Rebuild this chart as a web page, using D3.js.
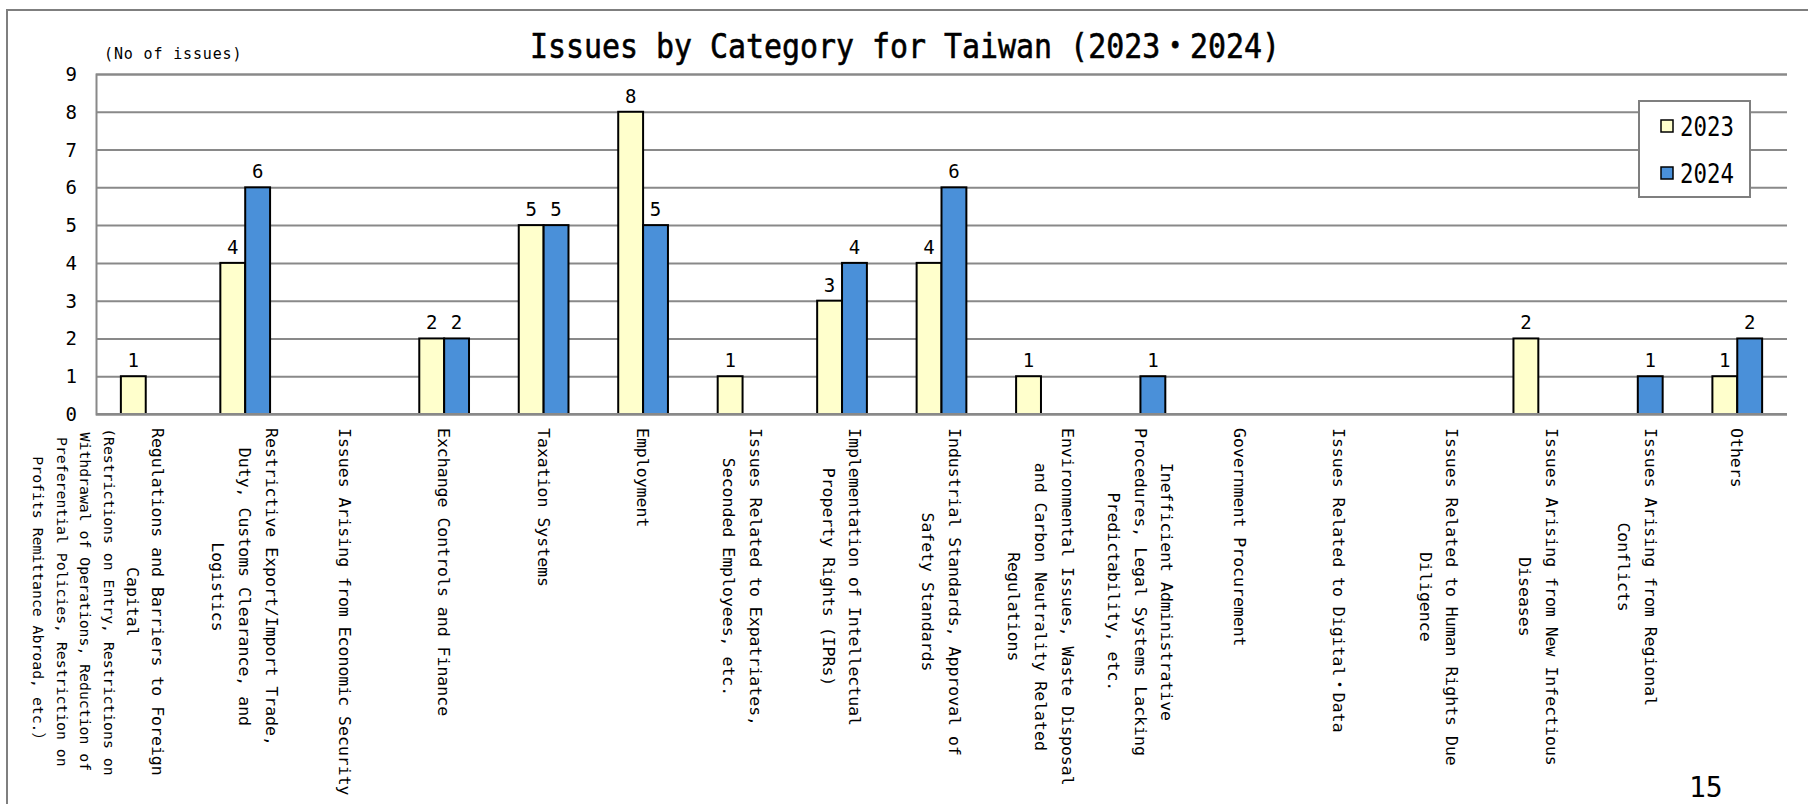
<!DOCTYPE html>
<html>
<head>
<meta charset="utf-8">
<script src="https://cdn.jsdelivr.net/npm/d3@7/dist/d3.min.js"></script>
<style>
  html, body { margin: 0; padding: 0; background: #fff; }
  svg { display: block; }
  text { font-family: "DejaVu Sans Mono", "Noto Sans CJK JP", monospace; fill: #000; }
</style>
</head>
<body>
<svg id="chart" width="1808" height="804"></svg>
<script>
// Category labels, one entry per line of the wrapped label
const categoryLines = [
  ["Regulations and Barriers to Foreign", "Capital"],
  ["Restrictive Export/Import Trade,", "Duty, Customs Clearance, and", "Logistics"],
  ["Issues Arising from Economic Security"],
  ["Exchange Controls and Finance"],
  ["Taxation Systems"],
  ["Employment"],
  ["Issues Related to Expatriates,", "Seconded Employees, etc."],
  ["Implementation of Intellectual", "Property Rights (IPRs)"],
  ["Industrial Standards, Approval of", "Safety Standards"],
  ["Environmental Issues, Waste Disposal", "and Carbon Neutrality Related", "Regulations"],
  ["Inefficient Administrative", "Procedures, Legal Systems Lacking", "Predictability, etc."],
  ["Government Procurement"],
  ["Issues Related to Digital・Data"],
  ["Issues Related to Human Rights Due", "Diligence"],
  ["Issues Arising from New Infectious", "Diseases"],
  ["Issues Arising from Regional", "Conflicts"],
  ["Others"]
];
// Parenthetical notes printed in smaller type under a category name
const categoryNotes = [
  ["(Restrictions on Entry, Restrictions on", "Withdrawal of Operations, Reduction of", "Preferential Policies, Restriction on", "Profits Remittance Abroad, etc.）"],
  [], [], [], [], [], [], [], [], [], [], [], [], [], [], [], []
];
const seriesNames = ["2023", "2024"];
const values2023 = [1, 4, 0, 2, 5, 8, 1, 3, 4, 1, 0, 0, 0, 0, 2, 0, 1];
const values2024 = [0, 6, 0, 2, 5, 5, 0, 4, 6, 0, 1, 0, 0, 0, 0, 1, 2];
const yTicks = [0, 1, 2, 3, 4, 5, 6, 7, 8, 9];
const titleText = "Issues by Category for Taiwan (2023・2024)";
const unitText = "(No of issues)";
const pageNumber = "15";

const colors = { "2023": "#FFFFCC", "2024": "#4A90D9" };
const gridColor = "#898989";

const svg = d3.select("#chart");
const categories = categoryLines.map((_, i) => "c" + i);
const rows = categories.map((c, i) => ({
  key: c, lines: categoryLines[i], notes: categoryNotes[i],
  "2023": values2023[i], "2024": values2024[i]
}));

const plot = { left: 96, right: 1787, top: 74, bottom: 414 };

const x = d3.scaleBand().domain(categories).range([plot.left, plot.right]).paddingInner(0).paddingOuter(0);
const x1 = d3.scaleBand().domain(seriesNames).range([x.bandwidth() * 0.25, x.bandwidth() * 0.75]).padding(0);
const y = d3.scaleLinear().domain([0, 9]).range([plot.bottom, plot.top]);

// Outer chart frame (left and top edges)
svg.append("path")
  .attr("d", "M7,804 L7,10 L1808,10")
  .attr("fill", "none").attr("stroke", "#7f7f7f").attr("stroke-width", 2);

// Horizontal gridlines
const yAxis = d3.axisLeft(y).tickValues(yTicks).tickSize(-(plot.right - plot.left)).tickFormat("");
const gAxis = svg.append("g").attr("transform", `translate(${plot.left},0)`).call(yAxis);
gAxis.select(".domain").attr("stroke", gridColor).attr("stroke-width", 2);
gAxis.selectAll(".tick line").attr("stroke", gridColor).attr("stroke-width", 2);

// Y tick labels
svg.append("g").selectAll("text").data(yTicks).join("text")
  .attr("x", 77).attr("y", d => y(d) + 7)
  .attr("text-anchor", "end")
  .attr("font-size", 19)
  .text(d => d);

// Bars (zero values are not drawn)
const groups = svg.append("g").selectAll("g").data(rows).join("g")
  .attr("transform", d => `translate(${x(d.key)},0)`);

const barData = d => seriesNames.map(s => ({ s, v: d[s] })).filter(e => e.v > 0);

groups.selectAll("rect").data(barData).join("rect")
  .attr("x", e => x1(e.s))
  .attr("y", e => y(e.v))
  .attr("width", x1.bandwidth())
  .attr("height", e => y(0) - y(e.v))
  .attr("fill", e => colors[e.s])
  .attr("stroke", "#000")
  .attr("stroke-width", 2);

// Value labels
groups.selectAll("text").data(barData).join("text")
  .attr("x", e => x1(e.s) + x1.bandwidth() / 2)
  .attr("y", e => y(e.v) - 9)
  .attr("text-anchor", "middle")
  .attr("font-size", 19)
  .text(e => e.v);

// Baseline on top of bars
svg.append("line")
  .attr("x1", plot.left).attr("x2", plot.right)
  .attr("y1", y(0)).attr("y2", y(0))
  .attr("stroke", gridColor).attr("stroke-width", 2);

// Rotated, wrapped category labels
const labelTop = 428;
const labelFont = 16.5, noteFont = 14.8;
const lead = 26.8, noteLead = 23.5;
const labelLayer = svg.append("g").attr("fill", "#111");
rows.forEach(d => {
  // line offsets (leftwards from the first line)
  const items = [];
  let off = 0;
  d.lines.forEach((line, i) => {
    if (i > 0) off += d.notes.length ? 25 : lead;
    items.push({ text: line, size: labelFont, off });
  });
  d.notes.forEach(line => {
    off += noteLead;
    items.push({ text: line, size: noteFont, off });
  });
  const spread = off;
  const c = x(d.key) + x.bandwidth() / 2;
  // blocks wider than a band hang to the left of their tick
  const firstX = spread > x.bandwidth() ? c + 12 : c + spread / 2;
  const t = labelLayer.append("text").attr("text-anchor", "middle");
  items.forEach(it => {
    t.append("tspan").attr("x", 0).attr("y", it.off).attr("dy", "0.36em")
      .attr("font-size", it.size).text(it.text);
  });
  let maxLen = 0;
  t.selectAll("tspan").each(function () { maxLen = Math.max(maxLen, this.getComputedTextLength()); });
  t.attr("transform", `translate(${firstX},${labelTop + maxLen / 2}) rotate(90)`);
});

// Title
svg.append("text")
  .attr("transform", "translate(905,58) scale(0.88,1)")
  .attr("text-anchor", "middle")
  .attr("font-size", 34)
  .attr("stroke", "#000").attr("stroke-width", 0.6)
  .text(titleText);

// Unit caption
svg.append("text")
  .attr("x", 104).attr("y", 59)
  .attr("font-size", 15)
  .attr("letter-spacing", 0.85)
  .attr("fill", "#333")
  .text(unitText);

// Legend
const legend = svg.append("g");
legend.append("rect")
  .attr("x", 1639).attr("y", 101).attr("width", 111).attr("height", 96)
  .attr("fill", "#fff").attr("stroke", "#7f7f7f").attr("stroke-width", 2);
seriesNames.forEach((s, i) => {
  const ly = 126 + i * 47;
  legend.append("rect")
    .attr("x", 1661).attr("y", ly - 6).attr("width", 12).attr("height", 12)
    .attr("fill", colors[s]).attr("stroke", "#000").attr("stroke-width", 1.5);
  legend.append("text")
    .attr("transform", `translate(1680,${ly + 9.5}) scale(0.83,1)`)
    .attr("font-size", 27)
    .text(s);
});

// Page number
svg.append("text")
  .attr("x", 1689).attr("y", 797)
  .attr("font-family", "Open Sans, Lato, sans-serif")
  .attr("font-size", 28)
  .text(pageNumber);
</script>
</body>
</html>
